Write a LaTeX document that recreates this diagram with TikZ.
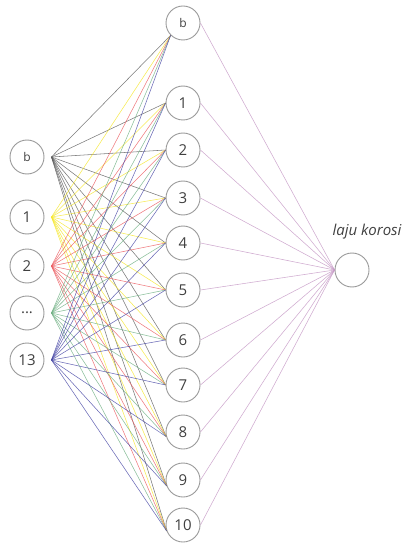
\documentclass[tikz,border=0pt]{standalone}
\usepackage{fontspec}
\setmainfont{Open Sans}
\definecolor{outlink}{RGB}{196,150,196}
\definecolor{biaslink}{RGB}{90,90,90}
\definecolor{yellowlink}{RGB}{245,230,40}
\definecolor{redlink}{RGB}{235,90,95}
\definecolor{greenlink}{RGB}{110,175,130}
\definecolor{bluelink}{RGB}{70,70,165}
\newcommand\dotlabel{...}
\newcommand\biaslabel{{\fontsize{12}{14}\selectfont b}}
\begin{document}
\begin{tikzpicture}[x=1pt,y=-1pt,
  neuron/.style={circle,draw=gray!80,line width=0.9pt,minimum size=34pt,inner sep=0pt,
                 font=\fontsize{15}{17}\selectfont,text=black!75},
  link/.style={line width=0.55pt,opacity=0.8}]
  \useasboundingbox (0,0) rectangle (414,545);
  % input layer
  \foreach \n/\t/\y in {ib/\biaslabel/157,i1/1/217,i2/2/266,idots/\dotlabel/313,i13/13/360}
    \node[neuron] (\n) at (27,\y) {\t};
  % hidden layer
  \foreach \n/\t/\y in {hb/\biaslabel/23,h1/1/103,h2/2/150,h3/3/198,h4/4/243,h5/5/290,
                        h6/6/340,h7/7/385,h8/8/432,h9/9/480,h10/10/525}
    \node[neuron] (\n) at (183,\y) {\t};
  % output layer
  \node[neuron] (out) at (352,270) {};
  \node[font=\fontsize{15}{17}\selectfont\itshape,text=black!75,anchor=south]
    (lbl) at (367,243) {laju korosi};
  \foreach \i/\c in {ib/biaslink,i1/yellowlink,i2/redlink,idots/greenlink,i13/bluelink}
    \foreach \h/\a in {hb/south west,h1/west,h2/west,h3/west,h4/west,h5/west,
                       h6/west,h7/west,h8/195,h9/200,h10/200}
      \draw[link,\c] ([xshift=7pt]\i.east) -- (\h.\a);
  \foreach \h in {hb,h1,h2,h3,h4,h5,h6,h7,h8,h9,h10}
    \draw[link,outlink] (\h.east) -- (out.west);
\end{tikzpicture}
\end{document}
